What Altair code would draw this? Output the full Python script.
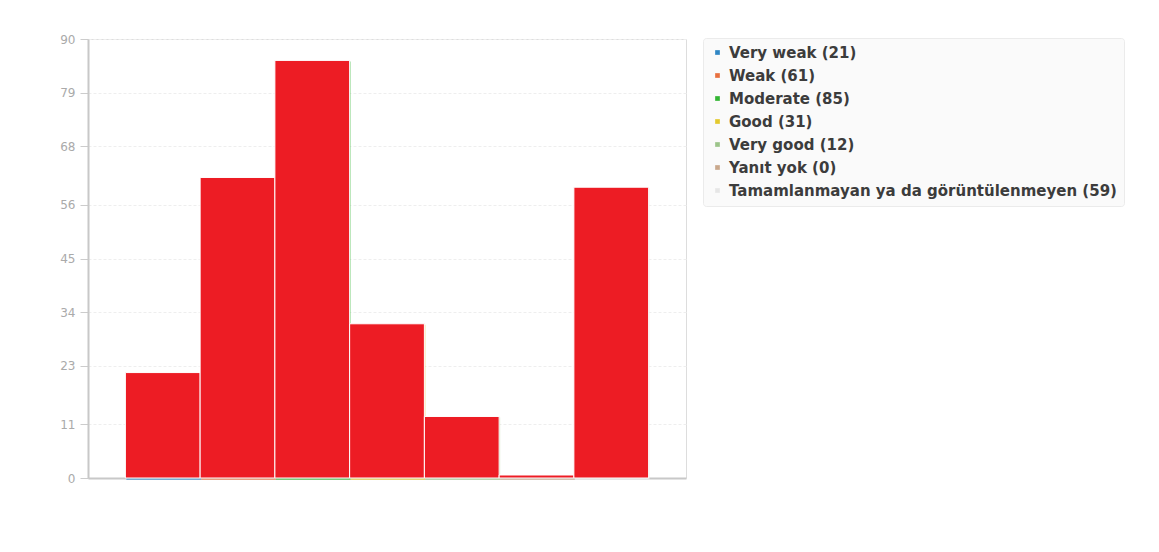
import altair as alt
import pandas as pd

categories = ["Very weak", "Weak", "Moderate", "Good", "Very good", "Yanıt yok",
              "Tamamlanmayan ya da görüntülenmeyen"]
counts = [21, 61, 85, 31, 12, 0, 59]
series_colors = ["#2f86c4", "#e8703f", "#33b533", "#e3c92e", "#9cc48a", "#c9a88c", "#e6e6e6"]
y_ticks = [0, 11, 23, 34, 45, 56, 68, 79, 90]

labels = [f"{c} ({v})" for c, v in zip(categories, counts)]
df = pd.DataFrame({"label": labels, "count": counts, "base": [0] * len(counts)})

x_enc = alt.X("label:N", sort=labels, title=None,
              scale=alt.Scale(paddingInner=0, paddingOuter=0.5),
              axis=alt.Axis(labels=False, ticks=False, grid=False,
                            domainColor="#c8c8c8", domainWidth=2))
y_enc = alt.Y("count:Q", title=None,
              scale=alt.Scale(domain=[0, 90], nice=False),
              axis=alt.Axis(values=y_ticks, tickSize=8, tickColor="#cccccc",
                            labelColor="#aaaaaa", labelFontSize=12, labelPadding=5,
                            labelFont="DejaVu Sans",
                            domainColor="#c8c8c8", domainWidth=2,
                            gridColor="#eeeeee", gridDash=[3, 2]))

under = alt.Chart(df).mark_bar(opacity=0.6, xOffset=1, yOffset=-2, y2Offset=2).encode(
    x=x_enc,
    y=y_enc,
    y2="base:Q",
    color=alt.Color("label:N", sort=labels, title=None,
                    scale=alt.Scale(domain=labels, range=series_colors),
                    legend=alt.Legend(orient="none", legendX=615, legendY=-1,
                                      symbolType="square", symbolSize=22,
                                      symbolStrokeWidth=0, symbolOpacity=1,
                                      labelFont="DejaVu Sans", labelFontSize=15,
                                      labelFontWeight="bold",
                                      labelColor="#3c3c3c", labelLimit=600,
                                      rowPadding=7, labelOffset=4,
                                      padding=7, fillColor="#fafafa",
                                      strokeColor="#ebebeb", cornerRadius=3)),
)

over = alt.Chart(df).mark_bar(color="#ED1C24", stroke="white", strokeWidth=1,
                              yOffset=-3, y2Offset=0.01).encode(
    x=alt.X("label:N", sort=labels),
    y="count:Q",
    y2="base:Q",
)

chart = alt.layer(under, over).properties(
    width=598, height=439,
    padding={"left": 80, "top": 31, "right": 460, "bottom": 60},
    autosize=alt.AutoSizeParams(type="none"),
).configure_view(
    fill="#f9f9f9", stroke="#ececec", strokeWidth=1
).configure(background="white")

chart.save("out.html", embed_options={"renderer": "svg", "actions": False})
